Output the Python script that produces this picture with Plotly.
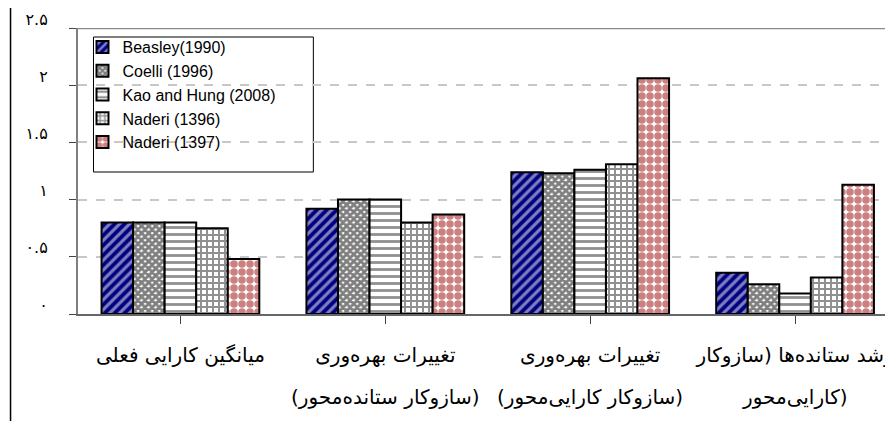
import plotly.graph_objects as go

cat_line1 = [
    "میانگین کارایی فعلی",
    "تغییرات بهره\u200cوری",
    "تغییرات بهره\u200cوری",
    "رشد ستانده\u200cها (سازوکار",
]
cat_line2 = [
    "",
    "(سازوکار ستانده\u200cمحور)",
    "(سازوکار کارایی\u200cمحور)",
    "کارایی\u200cمحور)",
]
series_names = ["Beasley(1990)", "Coelli (1996)", "Kao and Hung (2008)", "Naderi (1396)", "Naderi (1397)"]
beasley = [0.80, 0.92, 1.24, 0.36]
coelli = [0.80, 1.00, 1.23, 0.26]
kao = [0.80, 1.00, 1.26, 0.18]
naderi96 = [0.75, 0.80, 1.31, 0.32]
naderi97 = [0.48, 0.87, 2.06, 1.13]
y_tickvals = [0, 0.5, 1, 1.5, 2, 2.5]
y_ticktext = ["۰", "۰.۵", "۱", "۱.۵", "۲", "۲.۵"]

# page body has an 8px margin; figure coordinates are window - 8
W, H = 885, 413
L, T, B = 69.5, 20, 107
plot_w = W - L
plot_h = H - T - B
axis_y = T + plot_h  # 306


def px_x(xw):
    return (xw - 8 - L) / plot_w


def px_y(yw):
    return (axis_y - (yw - 8)) / plot_h


bar_colors = ["#000080", "white", "white", "white", "white"]
patterns = [
    dict(shape="/", fgcolor="white", bgcolor="#000080", size=7, solidity=0.45),
    dict(shape="x", fgcolor="black", bgcolor="white", size=5, solidity=0.8),
    dict(shape="-", fgcolor="#222222", bgcolor="white", size=7, solidity=0.4),
    dict(shape="+", fgcolor="#222222", bgcolor="white", size=6, solidity=0.55),
    dict(shape=".", fgcolor="#990000", bgcolor="white", size=8, solidity=0.7),
]
values = [beasley, coelli, kao, naderi96, naderi97]
x_idx = list(range(len(cat_line1)))

fig = go.Figure()
for name, vals, pat, col in zip(series_names, values, patterns, bar_colors):
    fig.add_trace(go.Bar(
        x=x_idx, y=vals, name=name,
        marker=dict(color=col, pattern=pat, line=dict(color="black", width=2)),
    ))

n_cat_visible = plot_w / 205.0
persian_font = "DejaVu Sans, Liberation Serif, serif"

annotations = []
for i, txt in enumerate(cat_line2):
    if txt:
        annotations.append(dict(
            x=i, y=px_y(397), xref="x", yref="paper", text=txt, showarrow=False,
            xanchor="center", yanchor="middle",
            font=dict(family=persian_font, size=20, color="black"),
        ))

fig.update_layout(
    width=W, height=H,
    margin=dict(l=L, r=0, t=T, b=B),
    paper_bgcolor="white", plot_bgcolor="white",
    barmode="group", bargap=0.23, bargroupgap=0,
    font=dict(family=persian_font, size=16, color="black"),
    showlegend=True,
    legend=dict(
        x=px_x(82), y=px_y(30), xanchor="left", yanchor="top",
        bgcolor="rgba(0,0,0,0)", borderwidth=0,
        font=dict(family="Liberation Sans, Arial, sans-serif", size=16, color="black"),
        itemwidth=30, tracegroupgap=0,
    ),
    xaxis=dict(
        range=[-0.5, -0.5 + n_cat_visible],
        tickvals=x_idx, ticktext=cat_line1,
        tickson="boundaries", ticks="outside", ticklen=8, tickcolor="#444444", tickwidth=1,
        showline=True, linecolor="#666666", linewidth=1.5,
        showgrid=False, ticklabelstandoff=14, ticklabeloverflow="allow",
        tickfont=dict(family=persian_font, size=20),
    ),
    yaxis=dict(
        range=[0, 2.5], tickvals=y_tickvals, ticktext=y_ticktext,
        ticks="outside", ticklen=7, tickcolor="#444444", tickwidth=1,
        showline=True, linecolor="#7f7f7f", linewidth=2,
        showgrid=True, gridcolor="#c8c8c8", griddash="dash", gridwidth=2,
        zeroline=False, ticklabelstandoff=18, ticklabelshift=-9,
        tickfont=dict(family=persian_font, size=16),
    ),
    annotations=annotations,
    shapes=[
        dict(type="line", xref="paper", yref="y", x0=0, x1=1, y0=2.5, y1=2.5,
             line=dict(color="#8c8c8c", width=2.5)),
        dict(type="line", xref="paper", yref="paper",
             x0=px_x(10), x1=px_x(10), y0=px_y(8), y1=px_y(421),
             line=dict(color="black", width=1.5)),
        dict(type="rect", xref="paper", yref="paper", layer="between",
             x0=px_x(93), x1=px_x(313), y0=px_y(172), y1=px_y(37),
             fillcolor="white", line=dict(color="black", width=1)),
    ],
)

fig.write_html("out.html")
